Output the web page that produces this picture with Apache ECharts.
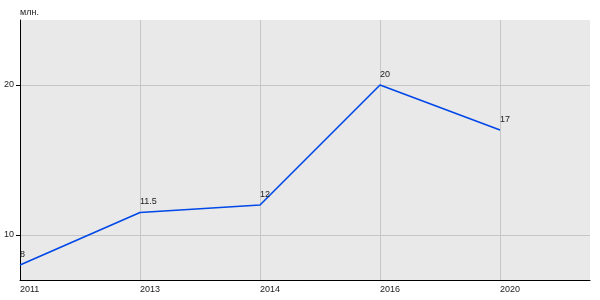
<!DOCTYPE html>
<html>
<head>
<meta charset="utf-8">
<script src="https://cdn.jsdelivr.net/npm/echarts@6/dist/echarts.min.js"></script>
<style>html,body{margin:0;padding:0;background:#fff}#c{width:600px;height:300px}</style>
</head>
<body>
<div id="c"></div>
<script>
const years = ['2011', '2013', '2014', '2016', '2020'];
const values = [8, 11.5, 12, 20, 17];
const yTicks = [10, 20];
const unit = 'млн.';

const xPos = years.map((_, i) => i);
const font = 'Arial, "Liberation Sans", sans-serif';
const chart = echarts.init(document.getElementById('c'), null, {renderer: 'canvas'});
chart.setOption({
  animation: false,
  grid: {left: 20, top: 20, right: 10, bottom: 20, show: true, backgroundColor: '#e9e9e9', borderWidth: 0},
  xAxis: {
    type: 'value', min: 0, max: 4.75,
    axisLine: {show: true, onZero: false, lineStyle: {color: '#000', width: 1}},
    axisTick: {show: false, customValues: xPos},
    axisLabel: {customValues: xPos, formatter: v => years[Math.round(v)] || '', align: 'left', margin: 5,
      fontSize: 9, color: '#222', fontFamily: font},
    splitLine: {show: true, lineStyle: {color: '#c6c6c6', width: 1}}
  },
  yAxis: {
    type: 'value', min: 7, max: 24.333,
    name: unit, nameLocation: 'end', nameGap: 3,
    nameTextStyle: {align: 'left', verticalAlign: 'bottom', fontSize: 9, color: '#222', fontFamily: font},
    axisLine: {show: true, lineStyle: {color: '#000', width: 1}},
    axisTick: {show: true, length: 4, customValues: yTicks, lineStyle: {color: '#000'}},
    axisLabel: {customValues: yTicks, margin: 6, fontSize: 9, color: '#222', fontFamily: font},
    splitLine: {show: true, lineStyle: {color: '#c6c6c6', width: 1}}
  },
  series: [{
    type: 'line',
    data: values.map((v, i) => [xPos[i], v]),
    symbol: 'circle', symbolSize: 1, showSymbol: true,
    itemStyle: {color: 'rgba(0,0,0,0)'},
    lineStyle: {color: '#0048e8', width: 1.6},
    label: {show: true, position: [0.5, -10], align: 'left', verticalAlign: 'middle',
      fontSize: 9, color: '#222', fontFamily: font, formatter: p => String(values[p.dataIndex])}
  }]
});
</script>
</body>
</html>
